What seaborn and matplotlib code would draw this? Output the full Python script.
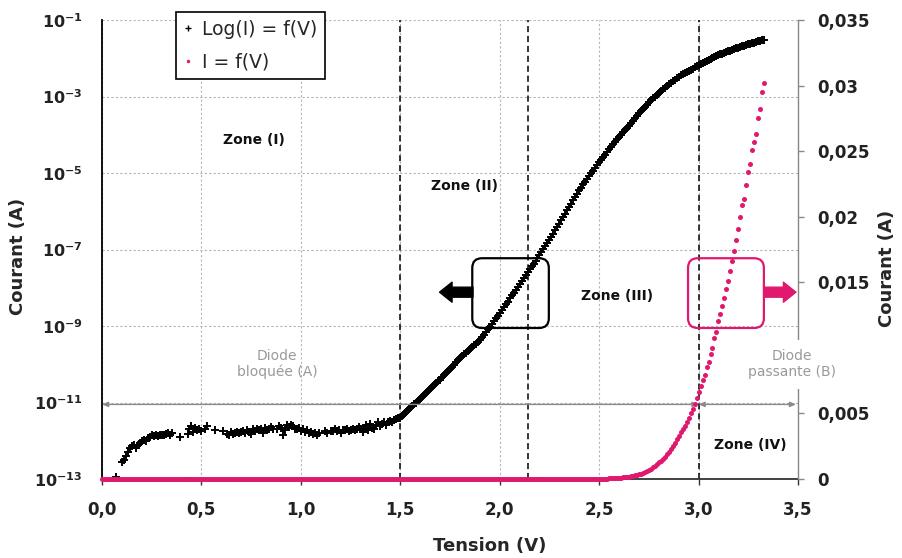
import numpy as np
import pandas as pd
import matplotlib
matplotlib.use("Agg")
import matplotlib.pyplot as plt
import seaborn as sns
from matplotlib.lines import Line2D
from matplotlib.patches import FancyBboxPatch

# ---------------- data ----------------
# low-voltage region (blocked diode): noisy log10(I) readings
V_LOW = [0.07, 0.10, 0.11, 0.12, 0.13, 0.14, 0.15, 0.16, 0.17, 0.18, 0.19, 0.20,
         0.21, 0.22, 0.23, 0.24, 0.25, 0.26, 0.27, 0.28, 0.29, 0.30, 0.31, 0.32,
         0.33, 0.34, 0.35, 0.39, 0.43, 0.44, 0.45, 0.46, 0.47, 0.48, 0.49, 0.50,
         0.52, 0.53, 0.57, 0.61, 0.63, 0.64, 0.65, 0.66, 0.67, 0.68, 0.69, 0.70,
         0.71, 0.72, 0.73, 0.74, 0.75, 0.76, 0.77, 0.78, 0.79, 0.80, 0.81, 0.82,
         0.83, 0.84, 0.85, 0.86, 0.88, 0.89, 0.90, 0.91, 0.92, 0.93, 0.94, 0.95,
         0.96, 0.97, 0.98, 0.99, 1.00, 1.01, 1.02, 1.03, 1.04, 1.05, 1.06, 1.07,
         1.08, 1.09, 1.12, 1.13, 1.15, 1.16, 1.17, 1.18, 1.19, 1.20, 1.21, 1.22,
         1.23, 1.24, 1.25, 1.26, 1.27, 1.28, 1.29, 1.30, 1.31, 1.32, 1.33, 1.34,
         1.35, 1.36, 1.37, 1.38, 1.39, 1.40, 1.41, 1.42, 1.43, 1.44, 1.45, 1.46,
         1.47, 1.48, 1.49]
LOGI_LOW = [-12.95, -12.55, -12.50, -12.40, -12.30, -12.20, -12.15, -12.12, -12.18, -12.10, -12.05, -12.00,
            -11.98, -12.00, -11.93, -11.90, -11.85, -11.88, -11.85, -11.87, -11.84, -11.86, -11.85, -11.83,
            -11.80, -11.85, -11.80, -11.90, -11.83, -11.70, -11.62, -11.78, -11.66, -11.72, -11.68, -11.75,
            -11.68, -11.62, -11.72, -11.74, -11.82, -11.85, -11.78, -11.82, -11.80, -11.78, -11.80, -11.76,
            -11.74, -11.79, -11.72, -11.76, -11.83, -11.70, -11.74, -11.68, -11.72, -11.70, -11.80, -11.66,
            -11.72, -11.70, -11.64, -11.68, -11.70, -11.62, -11.66, -11.85, -11.72, -11.60, -11.65, -11.58,
            -11.62, -11.68, -11.70, -11.66, -11.75, -11.70, -11.78, -11.72, -11.80, -11.76, -11.82, -11.80,
            -11.84, -11.80, -11.75, -11.80, -11.75, -11.75, -11.70, -11.74, -11.73, -11.80, -11.72, -11.73,
            -11.70, -11.74, -11.72, -11.68, -11.72, -11.70, -11.65, -11.70, -11.78, -11.68, -11.60, -11.72,
            -11.55, -11.66, -11.70, -11.60, -11.50, -11.62, -11.55, -11.52, -11.58, -11.50, -11.48, -11.52,
            -11.45, -11.44, -11.40]

# conduction region: log10(I) read every 0.01 V from 1.50 V to 3.33 V
LOGI_HIGH = [
    -11.40, -11.35, -11.30, -11.25, -11.20, -11.15, -11.10, -11.05, -11.00, -10.95,
    -10.90, -10.85, -10.80, -10.75, -10.70, -10.65, -10.60, -10.55, -10.50, -10.45,
    -10.40, -10.34, -10.29, -10.23, -10.18, -10.12, -10.06, -10.01, -9.95, -9.90,
    -9.84, -9.79, -9.74, -9.70, -9.65, -9.60, -9.55, -9.50, -9.46, -9.41,
    -9.36, -9.29, -9.23, -9.16, -9.09, -9.02, -8.95, -8.88, -8.80, -8.73,
    -8.66, -8.58, -8.51, -8.43, -8.36, -8.28, -8.20, -8.13, -8.05, -7.98,
    -7.90, -7.82, -7.75, -7.67, -7.60, -7.52, -7.44, -7.37, -7.29, -7.22,
    -7.14, -7.06, -6.99, -6.91, -6.84, -6.76, -6.67, -6.59, -6.50, -6.42,
    -6.33, -6.24, -6.16, -6.07, -5.98, -5.89, -5.80, -5.71, -5.63, -5.54,
    -5.45, -5.38, -5.30, -5.23, -5.15, -5.08, -5.01, -4.94, -4.86, -4.79,
    -4.72, -4.65, -4.58, -4.52, -4.45, -4.38, -4.32, -4.25, -4.19, -4.12,
    -4.06, -4.00, -3.94, -3.88, -3.82, -3.76, -3.70, -3.63, -3.57, -3.50,
    -3.44, -3.38, -3.32, -3.27, -3.21, -3.15, -3.10, -3.05, -3.00, -2.95,
    -2.90, -2.86, -2.81, -2.77, -2.72, -2.68, -2.64, -2.60, -2.56, -2.52,
    -2.48, -2.45, -2.42, -2.39, -2.36, -2.33, -2.30, -2.27, -2.24, -2.21,
    -2.18, -2.15, -2.12, -2.10, -2.07, -2.05, -2.02, -2.00, -1.97, -1.95,
    -1.92, -1.90, -1.88, -1.86, -1.84, -1.82, -1.80, -1.78, -1.76, -1.74,
    -1.72, -1.70, -1.68, -1.67, -1.65, -1.63, -1.62, -1.60, -1.59, -1.58,
    -1.56, -1.55, -1.53, -1.52]
V_HIGH = list(np.round(1.50 + 0.01 * np.arange(len(LOGI_HIGH)), 2))

# samples where the measured current is ~0 (no log value shown)
V_ZERO = [0.00, 0.01, 0.02, 0.03, 0.04, 0.05, 0.06, 0.08, 0.09, 0.36, 0.37, 0.38,
          0.40, 0.41, 0.42, 0.51, 0.54, 0.55, 0.56, 0.58, 0.59, 0.60, 0.62, 0.87,
          1.10, 1.11, 1.14]
I_ZERO = [0.0] * len(V_ZERO)

X_TICKS = [0.0, 0.5, 1.0, 1.5, 2.0, 2.5, 3.0, 3.5]
X_LABELS = ["0,0", "0,5", "1,0", "1,5", "2,0", "2,5", "3,0", "3,5"]
LOG_TICKS = [1e-1, 1e-3, 1e-5, 1e-7, 1e-9, 1e-11, 1e-13]
LOG_LABELS = [r"$\mathbf{10^{-1}}$", r"$\mathbf{10^{-3}}$", r"$\mathbf{10^{-5}}$",
              r"$\mathbf{10^{-7}}$", r"$\mathbf{10^{-9}}$", r"$\mathbf{10^{-11}}$",
              r"$\mathbf{10^{-13}}$"]
LIN_TICKS = [0.0, 0.005, 0.015, 0.02, 0.025, 0.03, 0.035]
LIN_LABELS = ["0", "0,005", "0,015", "0,02", "0,025", "0,03", "0,035"]
ZONE_LINES = [1.5, 2.14, 3.0]

# ---------------- frames ----------------
log_df = pd.DataFrame({"V": V_LOW + V_HIGH, "I": 10.0 ** np.array(LOGI_LOW + LOGI_HIGH)})
lin_df = pd.concat([log_df, pd.DataFrame({"V": V_ZERO, "I": I_ZERO})]).sort_values("V")

PINK = "#e0186e"

sns.set_style("white")
plt.rcParams["font.family"] = ["DejaVu Sans"]
plt.rcParams["mathtext.fontset"] = "dejavusans"

fig = plt.figure(figsize=(9.03, 5.58), dpi=100)
ax = fig.add_axes([102 / 903, 1 - 479 / 558, 696 / 903, 459 / 558])
ax2 = ax.twinx()

ax.set_yscale("log")
ax.set_xlim(0, 3.5)
ax.set_ylim(1e-13, 1e-1)
ax2.set_ylim(0, 0.035)

# grid
ax.set_xticks(X_TICKS)
ax.set_xticklabels(X_LABELS, fontsize=12, fontweight="bold", color="#222222")
ax.set_yticks(LOG_TICKS)
ax.set_yticklabels(LOG_LABELS, fontsize=11.5, color="#222222")
ax.yaxis.set_minor_locator(matplotlib.ticker.NullLocator())
ax.grid(True, which="major", color="#b5b5b5", ls=(0, (2, 2)), lw=0.8)
ax.tick_params(axis="x", direction="out", length=4, width=1, pad=12, color="#333333", bottom=True)
ax.tick_params(axis="y", length=0, pad=14)

ax2.set_yticks(LIN_TICKS)
ax2.set_yticklabels(LIN_LABELS, fontsize=12, fontweight="bold", color="#222222")
ax2.tick_params(axis="y", direction="out", length=4, width=1, pad=10, color="#888888")

for s in ["top", "right"]:
    ax.spines[s].set_visible(False)
ax.spines["left"].set_color("black")
ax.spines["left"].set_linewidth(1.3)
ax.spines["bottom"].set_color("#333333")
ax.spines["bottom"].set_linewidth(1.3)
for s in ["top", "left", "bottom"]:
    ax2.spines[s].set_visible(False)
ax2.spines["right"].set_color("#888888")
ax2.spines["right"].set_linewidth(1.0)

for v in ZONE_LINES:
    ax.axvline(v, color="black", ls=(0, (4, 2.5)), lw=1.1, zorder=2)

# data
sns.scatterplot(data=log_df, x="V", y="I", ax=ax, marker="+", color="black",
                s=30, linewidth=1.4, zorder=3, legend=False)
sns.scatterplot(data=lin_df, x="V", y="I", ax=ax2, marker="o", color=PINK,
                s=13, linewidth=0, zorder=4, legend=False, clip_on=False)

ax.set_xlabel("")
ax.set_ylabel("")
ax2.set_ylabel("")

# axis labels
fig.text(18 / 903, 1 - 256 / 558, "Courant (A)", rotation=90, ha="center", va="center",
         fontsize=13, fontweight="bold")
fig.text(887 / 903, 1 - 268 / 558, "Courant (A)", rotation=90, ha="center", va="center",
         fontsize=13, fontweight="bold")
fig.text(490 / 903, 1 - 546 / 558, "Tension (V)", ha="center", va="center",
         fontsize=13, fontweight="bold")

# zone labels
zkw = dict(ha="center", va="center", fontsize=10, fontweight="bold", color="#111111")
ax.text(0.764, 10 ** -4.13, "Zone (I)", **zkw)
ax.text(1.825, 10 ** -5.34, "Zone (II)", **zkw)
ax.text(2.59, 10 ** -8.21, "Zone (III)", **zkw)
ax.text(3.26, 10 ** -12.1, "Zone (IV)", **zkw)

# diode regime arrows
akw = dict(arrowstyle="<|-|>,head_length=0.35,head_width=0.15", color="#8a8a8a", lw=1.0,
           shrinkA=0, shrinkB=0)
ax.annotate("", xy=(0.0, 10 ** -11.05), xytext=(3.0, 10 ** -11.05), arrowprops=akw)
ax.annotate("", xy=(3.0, 10 ** -11.05), xytext=(3.49, 10 ** -11.05), arrowprops=akw,
            annotation_clip=False)
ax.text(0.88, 10 ** -10.0, "Diode\nbloquée (A)", ha="center", va="center",
        fontsize=10, color="#9a9a9a", linespacing=1.15)
ax2.text(3.47, 10 ** -10.0, "Diode\npassante (B)", ha="center", va="center",
         fontsize=10, color="#9a9a9a", linespacing=1.15, transform=ax.transData,
         bbox=dict(facecolor="white", edgecolor="none", pad=7), zorder=20, clip_on=False)

# boxes and arrows indicating axis
asp = 696 / 459
for (x0, x1, col) in [(0.532, 0.642, "black"), (0.842, 0.951, PINK)]:
    box = FancyBboxPatch((x0, 0.329), x1 - x0, 0.152,
                         boxstyle="round,pad=0,rounding_size=0.014",
                         mutation_aspect=asp, transform=ax.transAxes,
                         facecolor="none", edgecolor=col, lw=1.6, zorder=6, clip_on=False)
    ax2.add_patch(box)
ax2.annotate("", xy=(0.485, 0.407), xytext=(0.533, 0.407), xycoords="axes fraction",
             arrowprops=dict(arrowstyle="simple,head_length=0.75,head_width=1.2,tail_width=0.6",
                             mutation_scale=12, color="black", shrinkA=0, shrinkB=0))
ax2.annotate("", xy=(0.997, 0.407), xytext=(0.951, 0.407), xycoords="axes fraction",
             arrowprops=dict(arrowstyle="simple,head_length=0.75,head_width=1.2,tail_width=0.6",
                             mutation_scale=12, color=PINK, shrinkA=0, shrinkB=0),
             annotation_clip=False)

# legend
handles = [Line2D([], [], marker="+", color="black", ls="none", markersize=5, mew=1.0),
           Line2D([], [], marker="o", color=PINK, ls="none", markersize=2.5, mew=0)]
leg = ax2.legend(handles, ["Log(I) = f(V)", "I = f(V)"], loc="upper left",
                 bbox_to_anchor=(0.106, 1.017), bbox_transform=ax.transAxes,
                 fontsize=13.5, frameon=True, fancybox=False, framealpha=1,
                 edgecolor="black", borderaxespad=0, handlelength=0.5,
                 handletextpad=0.5, labelspacing=0.75, borderpad=0.4)
leg.get_frame().set_linewidth(1.2)
leg.set_zorder(30)

fig.savefig("out.png", dpi=100)
